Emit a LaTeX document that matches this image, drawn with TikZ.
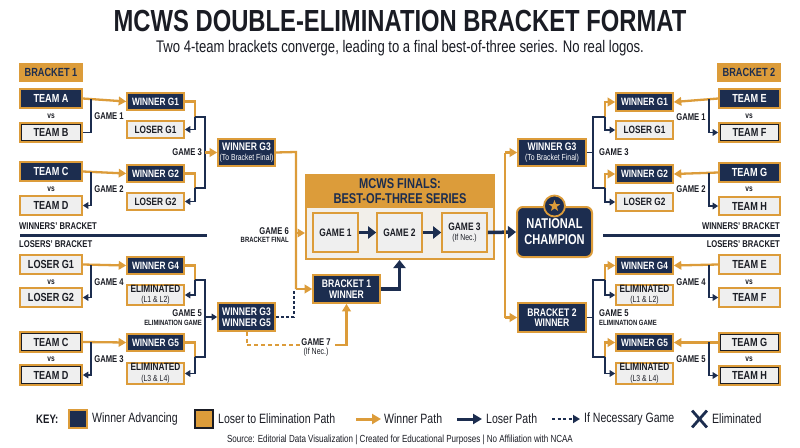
\documentclass[tikz,border=0pt]{standalone}
\usepackage{fontspec}
\setmainfont{Liberation Sans}[FakeStretch=0.78]
\usetikzlibrary{arrows.meta,shapes.geometric,shapes.misc}
\definecolor{navy}{HTML}{1C2D4F}
\definecolor{gold}{HTML}{DC9C3A}
\definecolor{lgray}{HTML}{EFEFEF}
\definecolor{fbg}{HTML}{F2EFEA}
\definecolor{ink}{HTML}{1A1C24}
\newcommand\bx[7]{\node[#2, minimum width={(#5-#3)*1pt}, minimum height={(#6-#4)*1pt}] (#1) at ({(#3+#5)/2},{(#4+#6)/2}) {#7};}
\newcommand\subl[1]{{\mdseries\fontsize{8.8}{8.8}\selectfont #1}}
\tikzset{
 bxbase/.style={inner sep=0pt, align=center, line width=1.6pt, font=\bfseries\fontsize{10.6}{10.5}\selectfont},
 navybox/.style={bxbase, fill=navy, draw=gold, text=white},
 graybox/.style={bxbase, fill=lgray, draw=gold, text=ink},
 teamn/.style={navybox, font=\bfseries\fontsize{11.7}{12}\selectfont},
 teamg/.style={graybox, font=\bfseries\fontsize{11.7}{12}\selectfont},
 teamd/.style={teamg, path picture={\draw[ink, line width=4pt] (path picture bounding box.south west) rectangle (path picture bounding box.north east);}},
 twoline/.style={navybox, font=\bfseries\fontsize{11}{10.5}\selectfont},
 goldbox/.style={bxbase, fill=gold, draw=gold, text=navy, font=\bfseries\fontsize{11.8}{12}\selectfont},
 lbl/.style={inner sep=0pt, text=ink, font=\bfseries\fontsize{9.8}{10}\selectfont},
 slbl/.style={inner sep=0pt, text=ink, font=\bfseries\fontsize{7.6}{8}\selectfont},
 vstxt/.style={inner sep=0pt, text=ink, font=\bfseries\fontsize{8.5}{9}\selectfont},
 secttxt/.style={inner sep=0pt, text=ink, font=\bfseries\fontsize{9.8}{10}\selectfont},
 op/.style={draw=gold, line width=2.3pt},
 np/.style={draw=navy, line width=1.6pt},
 oa/.style={op, -{Triangle[length=7.5pt,width=8.5pt]}},
 na/.style={np, -{Triangle[length=5.5pt,width=6.5pt]}},
 nt/.style={draw=navy, line width=3.5pt, -{Triangle[length=8pt,width=12pt]}},
 finbox/.style={fill=fbg, draw=gold, line width=2pt, inner sep=0pt},
 finhead/.style={fill=gold, draw=gold, line width=2pt, inner sep=0pt, align=center, text=navy, font=\bfseries\fontsize{14.2}{14.5}\selectfont},
 gmbox/.style={graybox, font=\bfseries\fontsize{10.8}{10.5}\selectfont},
 champ/.style={fill=navy, draw=gold, line width=2pt, rounded corners=6pt, inner sep=0pt, align=center, text=white, font=\bfseries\fontsize{14.2}{16}\selectfont},
 keytxt/.style={inner sep=0pt, anchor=west, text=ink, font=\fontsize{13.5}{14}\selectfont},
}
\begin{document}
\begin{tikzpicture}[x=1pt,y=-1pt]
\useasboundingbox[fill=white] (0,0) rectangle (800,447);
% titles
\node[inner sep=0pt, text=ink, font=\bfseries\fontsize{30.5}{31}\selectfont] (title) at (400,21.5) {MCWS DOUBLE-ELIMINATION BRACKET FORMAT};
\node[inner sep=0pt, text=ink, font=\fontsize{16.8}{18}\selectfont] (sub) at (400,48) {Two 4-team brackets converge, leading to a final best-of-three series. No real logos.};

% ===== LEFT WINNERS =====
\bx{b1}{goldbox}{20}{64}{82}{81}{BRACKET 1}
\bx{ta}{teamn}{20}{89}{82}{108}{TEAM A}
\node[vstxt] (vs1) at (51,116) {vs};
\bx{tb}{teamd}{20}{123}{82}{142}{TEAM B}
\bx{tc}{teamn}{20}{162}{82}{181}{TEAM C}
\node[vstxt] (vs2) at (51,189) {vs};
\bx{td}{teamg}{20}{196}{82}{215}{TEAM D}
\bx{wg1}{navybox}{127}{93}{184}{110}{WINNER G1}
\bx{lg1}{graybox}{127}{121}{184}{138}{LOSER G1}
\bx{wg2}{navybox}{127}{165}{184}{182}{WINNER G2}
\bx{lg2}{graybox}{127}{193}{184}{210}{LOSER G2}
\bx{wg3}{twoline}{218}{139}{275}{166}{WINNER G3\\\subl{(To Bracket Final)}}

\draw[oa] (ta.east) -- (wg1.west);
\coordinate (g1s) at (91,99);
\draw[np] (g1s) |- (tb.east);
\node[lbl] (lg1l) at (109,116) {GAME 1};
\draw[oa] (tc.east) -- (wg2.west);
\coordinate (g2s) at (91,172);
\draw[na] (g2s) |- (td.east);
\node[lbl] (lg2l) at (109,189) {GAME 2};

\coordinate (j1) at (195,117);
\coordinate (j2) at (195,188);
\coordinate (v1) at (205,117);
\coordinate (v2) at (205,188);
\draw[op] (wg1.east) -| (j1);
\draw[na] (j1) |- (lg1.east);
\draw[op] (wg2.east) -| (j2);
\draw[na] (j2) |- (lg2.east);
\draw[np] (j1) -- (v1) -- (v2) -- (j2);
\draw[oa] (v1 |- wg3.west) -- (wg3.west);
\node[lbl, anchor=east] (lg3l) at (202,152) {GAME 3};

% dividers
\draw[navy, line width=2.5pt] (20,235.5) -- (207,235.5);
\node[secttxt, anchor=west] (wbl) at (19,226) {WINNERS' BRACKET};
\node[secttxt, anchor=west] (lbl1) at (19,244) {LOSERS' BRACKET};
\draw[navy, line width=2.5pt] (603,235.5) -- (780,235.5);
\node[secttxt, anchor=east] (wbr) at (780,226) {WINNERS' BRACKET};
\node[secttxt, anchor=east] (lbr) at (780,244) {LOSERS' BRACKET};

% ===== LEFT LOSERS =====
\bx{ll1}{teamg}{20}{255}{82}{274}{LOSER G1}
\node[vstxt] (vs3) at (51,282) {vs};
\bx{ll2}{teamg}{20}{288}{82}{307}{LOSER G2}
\bx{tc2}{teamd}{20}{332}{82}{352}{TEAM C}
\node[vstxt] (vs4) at (51,359) {vs};
\bx{td2}{teamd}{20}{365}{82}{385}{TEAM D}
\bx{wg4}{navybox}{127}{257}{184}{274}{WINNER G4}
\bx{el1}{graybox}{127}{285}{184}{305}{ELIMINATED\\\subl{(L1 \& L2)}}
\bx{wg5}{navybox}{127}{334}{184}{351}{WINNER G5}
\bx{el2}{graybox}{127}{363}{184}{384}{ELIMINATED\\\subl{(L3 \& L4)}}
\bx{wg35}{twoline}{218}{303}{275}{331}{WINNER G3\\WINNER G5}

\draw[oa] (ll1.east) -- (wg4.west);
\coordinate (g4s) at (91,265);
\draw[na] (g4s) |- (ll2.east);
\node[lbl] (lg4l) at (109,282) {GAME 4};
\draw[oa] (tc2.east) -- (wg5.west);
\coordinate (g3s) at (91,342);
\draw[na] (g3s) |- (td2.east);
\node[lbl] (lg3bl) at (109,359) {GAME 3};

\coordinate (j3) at (195,280);
\coordinate (j4) at (195,357);
\coordinate (v3) at (205,280);
\coordinate (v4) at (205,357);
\draw[op] (wg4.east) -| (j3);
\draw[na] (j3) |- (el1.east);
\draw[op] (wg5.east) -| (j4);
\draw[na] (j4) |- (el2.east);
\draw[np] (j3) -- (v3) -- (v4) -- (j4);
\draw[na] (v3 |- wg35.west) -- (wg35.west);
\node[lbl, anchor=east] (lg5l) at (202,313) {GAME 5};
\node[slbl, anchor=east] (lg5s) at (202,323) {ELIMINATION GAME};

% ===== CENTER =====
\bx{fin}{finbox}{306}{175}{494}{259}{}
\bx{finh}{finhead}{306}{175}{494}{207}{MCWS FINALS:\\BEST-OF-THREE SERIES}
\bx{gm1}{gmbox}{313}{213}{358}{252}{GAME 1}
\bx{gm2}{gmbox}{377}{213}{422}{252}{GAME 2}
\bx{gm3}{gmbox}{442}{213}{487}{252}{GAME 3\\\subl{(If Nec.)}}
\bx{nc}{champ}{517}{207}{592}{257}{NATIONAL\\CHAMPION}
\node[circle, fill=navy, draw=gold, line width=1.8pt, minimum size=21pt, inner sep=0pt] (stc) at (nc.north) {};
\node[star, star points=5, star point ratio=2.4, fill=gold, inner sep=0pt, minimum size=12pt] (st) at (stc) {};
\draw[nt] (gm1.east) -- (gm2.west);
\draw[nt] (gm2.east) -- (gm3.west);
\draw[nt] (gm3.east) -- (nc.west);

\bx{b1w}{twoline}{313}{275}{380}{303}{BRACKET 1\\WINNER}
\coordinate (c6t) at (296,152);
\coordinate (c6a) at (296,233);
\coordinate (c6b) at (296,289);
\draw[op] (wg3.east) -- (c6t) -- (c6b);
\draw[oa] (c6a) -- (fin.west |- c6a);
\draw[oa] (c6b) -- (b1w.west);
\node[lbl, anchor=east] (lg6l) at (289,231) {GAME 6};
\node[slbl, anchor=east] (lg6s) at (289,240) {BRACKET FINAL};
\draw[nt] (b1w.east) -| (gm2.south |- fin.south);

\coordinate (d1) at (294,317);
\coordinate (d2) at (294,291);
\draw[np, dash pattern=on 3pt off 2.2pt] (wg35.east |- d1) -- (d1) -- (d2);
\coordinate (g7a) at (302,345);
\coordinate (g7b) at (335,345);
\draw[op, line width=2pt, dash pattern=on 4pt off 3pt] (wg35.south) |- (g7a);
\node[lbl] (lg7l) at (316,342) {GAME 7};
\node[inner sep=0pt, text=ink, font=\fontsize{9}{9}\selectfont] (lg7s) at (316,352) {(If Nec.)};
\draw[oa] (g7b) -| (b1w.south);

% ===== RIGHT SIDE CENTER =====
\bx{wg3r}{twoline}{518}{139}{586}{166}{WINNER G3\\\subl{(To Bracket Final)}}
\bx{b2w}{twoline}{518}{303}{586}{332}{BRACKET 2\\WINNER}
\coordinate (r1) at (505,152.5);
\coordinate (r2) at (505,317.5);
\draw[op] (r1) -- (r2);
\draw[oa] (r1) -- (wg3r.west);
\draw[oa] (r2) -- (b2w.west);

% ===== RIGHT WINNERS =====
\bx{b2}{goldbox}{718}{64}{780}{81}{BRACKET 2}
\bx{te}{teamn}{719}{89}{780}{108}{TEAM E}
\node[vstxt] (vs5) at (749,116) {vs};
\bx{tf}{teamd}{719}{123}{780}{142}{TEAM F}
\bx{tg}{teamn}{719}{163}{780}{182}{TEAM G}
\node[vstxt] (vs6) at (749,189) {vs};
\bx{th}{teamg}{719}{197}{780}{215}{TEAM H}
\bx{wg1r}{navybox}{616}{93}{673}{111}{WINNER G1}
\bx{lg1r}{graybox}{616}{121}{673}{139}{LOSER G1}
\bx{wg2r}{navybox}{616}{165}{673}{183}{WINNER G2}
\bx{lg2r}{graybox}{616}{193}{673}{211}{LOSER G2}

\draw[oa] (te.west) -- (wg1r.east);
\coordinate (h1s) at (709,99);
\draw[na] (h1s) |- (tf.west);
\node[lbl] (rg1l) at (691,117) {GAME 1};
\draw[oa] (tg.west) -- (wg2r.east);
\coordinate (h2s) at (709,173);
\draw[na] (h2s) |- (th.west);
\node[lbl] (rg2l) at (691,189) {GAME 2};

\coordinate (k1) at (605,117);
\coordinate (k2) at (605,188);
\coordinate (u1) at (593,117);
\coordinate (u2) at (593,188);
\draw[oa] (k1) |- (wg1r.west);
\draw[na] (k1) |- (lg1r.west);
\draw[oa] (k2) |- (wg2r.west);
\draw[na] (k2) |- (lg2r.west);
\draw[np] (k1) -- (u1) -- (u2) -- (k2);
\draw[np] (wg3r.east) -- (u1 |- wg3r.east);
\node[lbl, anchor=west] (rg3l) at (599,152) {GAME 3};

% ===== RIGHT LOSERS =====
\bx{te2}{teamg}{719}{255}{780}{274}{TEAM E}
\node[vstxt] (vs7) at (749,282) {vs};
\bx{tf2}{teamg}{719}{288}{780}{307}{TEAM F}
\bx{tg2}{teamd}{719}{333}{780}{352}{TEAM G}
\node[vstxt] (vs8) at (749,359) {vs};
\bx{th2}{teamd}{719}{366}{780}{385}{TEAM H}
\bx{wg4r}{navybox}{616}{257}{673}{274}{WINNER G4}
\bx{el1r}{graybox}{616}{285}{673}{305}{ELIMINATED\\\subl{(L1 \& L2)}}
\bx{wg5r}{navybox}{616}{334}{673}{351}{WINNER G5}
\bx{el2r}{graybox}{616}{363}{673}{384}{ELIMINATED\\\subl{(L3 \& L4)}}

\draw[oa] (te2.west) -- (wg4r.east);
\coordinate (h4s) at (709,265);
\draw[na] (h4s) |- (tf2.west);
\node[lbl] (rg4l) at (691,282) {GAME 4};
\draw[oa] (tg2.west) -- (wg5r.east);
\coordinate (h5s) at (709,342);
\draw[na] (h5s) |- (th2.west);
\node[lbl] (rg5l) at (691,359) {GAME 5};

\coordinate (k3) at (605,280);
\coordinate (k4) at (605,357);
\coordinate (u3) at (593,280);
\coordinate (u4) at (593,357);
\draw[oa] (k3) |- (wg4r.west);
\draw[na] (k3) |- (el1r.west);
\draw[oa] (k4) |- (wg5r.west);
\draw[na] (k4) |- (el2r.west);
\draw[np] (k3) -- (u3) -- (u4) -- (k4);
\draw[np] (b2w.east) -- (u3 |- b2w.east);
\node[lbl, anchor=west] (rg5el) at (599,313) {GAME 5};
\node[slbl, anchor=west] (rg5es) at (599,323) {ELIMINATION GAME};

% ===== KEY =====
\node[inner sep=0pt, anchor=west, text=ink, font=\bfseries\fontsize{12.3}{13}\selectfont] (key) at (36,419) {KEY:};
\bx{ks1}{navybox}{69}{410}{87}{428}{}
\node[keytxt] (kt1) at (92,419) {Winner Advancing};
\node[fill=gold, draw=ink, line width=1.6pt, minimum width=18pt, minimum height=18pt, inner sep=0pt] (ks2) at (204,419) {};
\node[keytxt] (kt2) at (218,419) {Loser to Elimination Path};
\coordinate (ka1) at (356,419);
\coordinate (ka2) at (381,419);
\draw[op, line width=3pt, -{Triangle[length=9pt,width=10pt]}] (ka1) -- (ka2);
\node[keytxt] (kt3) at (384,419) {Winner Path};
\coordinate (kb1) at (457,419);
\coordinate (kb2) at (482,419);
\draw[navy, line width=3pt, -{Triangle[length=9pt,width=10pt]}] (kb1) -- (kb2);
\node[keytxt] (kt4) at (486,419) {Loser Path};
\coordinate (kc1) at (552,419);
\coordinate (kc2) at (580,419);
\draw[navy, line width=2pt, dash pattern=on 3pt off 2.5pt, -{Triangle[length=7pt,width=8pt]}] (kc1) -- (kc2);
\node[keytxt] (kt5) at (584,419) {If Necessary Game};
\node[cross out, draw=navy, line width=2.8pt, minimum width=12pt, minimum height=14pt, inner sep=0pt] (kx) at (699.5,419) {};
\node[keytxt] (kt6) at (712,419) {Eliminated};
\node[inner sep=0pt, text=ink, font=\fontsize{10.3}{11}\selectfont] (src) at (400,440) {Source: Editorial Data Visualization | Created for Educational Purposes | No Affiliation with NCAA};
\end{tikzpicture}
\end{document}
